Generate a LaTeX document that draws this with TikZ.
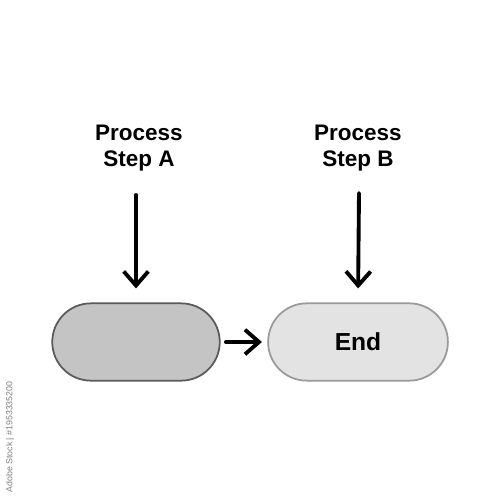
\documentclass[tikz,border=0pt]{standalone}
\usepackage{fontspec}
\setmainfont{Liberation Sans}
\usetikzlibrary{arrows.meta,shapes.misc}
\definecolor{darkfill}{HTML}{C4C4C4}
\definecolor{darkline}{HTML}{5A5A5A}
\definecolor{lightfill}{HTML}{E3E3E3}
\definecolor{lightline}{HTML}{9A9A9A}
\tikzset{
  label/.style={font=\fontsize{12.8}{14.5}\selectfont\bfseries, align=center},
  pill/.style={rounded rectangle, minimum width=#1, minimum height=44pt, line width=1pt},
  flow/.style={line width=2.2pt, line cap=round, -{Straight Barb[length=8pt,width=14pt,line width=2.2pt]}}
}
\begin{document}
\begin{tikzpicture}[x=0.02cm,y=-0.02cm]
\path[use as bounding box, fill=white] (0,0) rectangle (500,500);
\node[label] (pa) at (139,148) {Process\\Step A};
\node[label] (pb) at (358,148) {Process\\Step B};
\coordinate (ta) at (136,195);
\coordinate (tb) at (359,193);
\node[pill=102pt, fill=darkfill, draw=darkline] (s) at (136,342) {};
\node[pill=109pt, fill=lightfill, draw=lightline, font=\fontsize{14}{16}\selectfont\bfseries] (e) at (358,342) {End};
\draw[flow, shorten >=8pt] (ta) -- (s.north);
\draw[flow, shorten >=8pt] (tb) -- (e.north);
\draw[flow, shorten <=3pt, shorten >=3pt] (s.east) -- (e.west);
\node[rotate=90, font=\fontsize{5}{6}\selectfont, text=gray] (wm) at (10,437) {Adobe Stock | \#1953335200};
\end{tikzpicture}
\end{document}
